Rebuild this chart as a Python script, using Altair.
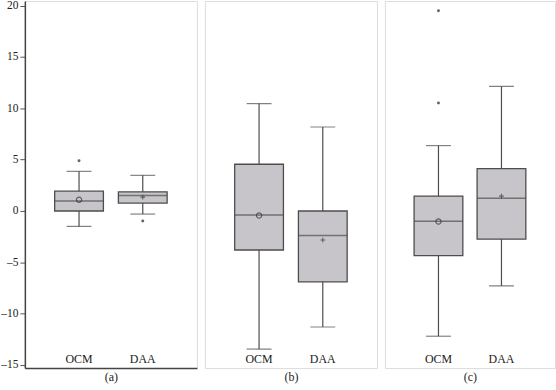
import altair as alt
import pandas as pd

panels = ["(a)", "(a)", "(b)", "(b)", "(c)", "(c)"]
groups = ["OCM", "DAA", "OCM", "DAA", "OCM", "DAA"]
lower_whisker = [-1.5, -0.3, -13.45, -11.3, -12.2, -7.3]
q1 = [0.0, 0.77, -3.8, -6.9, -4.35, -2.75]
median = [0.97, 1.5, -0.4, -2.4, -1.0, 1.25]
q3 = [1.93, 1.87, 4.55, 0.0, 1.45, 4.12]
upper_whisker = [3.86, 3.47, 10.46, 8.18, 6.37, 12.13]
mean = [1.1, 1.35, -0.44, -2.83, -1.02, 1.45]

outlier_panel = ["(a)", "(a)", "(c)", "(c)"]
outlier_group = ["OCM", "DAA", "OCM", "OCM"]
outlier_value = [4.89, -0.97, 19.5, 10.52]

panel_names = ["(a)", "(b)", "(c)"]
group_order = ["OCM", "DAA"]
y_ticks = [-15, -10, -5, 0, 5, 10, 15, 20]
panel_widths = [173, 173, 171]

stats = pd.DataFrame({
    "panel": panels, "group": groups, "lo": lower_whisker, "q1": q1,
    "median": median, "q3": q3, "hi": upper_whisker, "mean": mean,
})
outs = pd.DataFrame({"panel": outlier_panel, "group": outlier_group, "value": outlier_value})

H = 369
SERIF = "Liberation Serif"
EDGE = "#4d4d4d"
yscale = alt.Scale(domain=[-15.3, 20.45], nice=False, zero=False)


def make_panel(name, width, first):
    s = stats[stats.panel == name]
    o = outs[outs.panel == name]
    xenc = alt.X(
        "group:N",
        scale=alt.Scale(domain=group_order, paddingOuter=0.35, paddingInner=0),
        axis=alt.Axis(title=name, labels=False, ticks=False, domain=first,
                      domainColor="#444", domainWidth=1.5,
                      titleFont=SERIF, titleFontSize=12, titleFontWeight="normal",
                      titleColor="#222", titlePadding=4),
    )
    if first:
        yaxis = alt.Axis(title=None, values=y_ticks, labelFont=SERIF, labelFontSize=11.5,
                         labelColor="#222", tickSize=5, tickColor="#555", domain=True,
                         domainColor="#444", domainWidth=1.5,
                         labelExpr="replace(datum.label, '\u2212', '\u2013')",
                         grid=False, labelPadding=2)
    else:
        yaxis = None
    base = alt.Chart(s)
    whisk = base.mark_rule(color=EDGE, strokeWidth=1.2).encode(
        x=xenc, y=alt.Y("lo:Q", scale=yscale, axis=yaxis), y2="hi:Q")
    box = base.mark_bar(size=49, fill="#c7c5c9", stroke=EDGE, strokeWidth=1.3).encode(
        x=xenc, y=alt.Y("q1:Q", scale=yscale, axis=yaxis), y2="q3:Q")
    med = base.mark_tick(size=49, thickness=1.5, color=EDGE).encode(
        x=xenc, y=alt.Y("median:Q", scale=yscale))
    caplo = base.mark_tick(size=25, thickness=1.2, color=EDGE).encode(
        x=xenc, y=alt.Y("lo:Q", scale=yscale))
    caphi = base.mark_tick(size=25, thickness=1.2, color=EDGE).encode(
        x=xenc, y=alt.Y("hi:Q", scale=yscale))
    mean_ocm = base.transform_filter(alt.datum.group == "OCM").mark_point(
        shape="circle", filled=False, size=28, color="#333", strokeWidth=1.2).encode(
        x=xenc, y=alt.Y("mean:Q", scale=yscale))
    mean_daa = base.transform_filter(alt.datum.group == "DAA").mark_point(
        shape="M-1,0L1,0M0,-1L0,1", filled=False, size=22, color="#333", strokeWidth=1.1).encode(
        x=xenc, y=alt.Y("mean:Q", scale=yscale))
    labels = base.mark_text(font=SERIF, fontSize=12, color="#222", baseline="bottom").encode(
        x=xenc, y=alt.value(H - 2), text="group:N")
    layers = [whisk, box, med, caplo, caphi, mean_ocm, mean_daa, labels]
    if len(o):
        pts = alt.Chart(o).mark_point(shape="circle", filled=True, size=9, color="#666", opacity=1).encode(
            x=xenc, y=alt.Y("value:Q", scale=yscale))
        layers.append(pts)
    return alt.layer(*layers).properties(width=width, height=H)


charts = [make_panel(n, w, i == 0) for i, (n, w) in enumerate(zip(panel_names, panel_widths))]
chart = alt.hconcat(*charts, spacing=6).configure_view(
    stroke="#8a8a8a", strokeWidth=1.6
).configure(padding={"left": 0, "top": -2, "right": 0, "bottom": 0}, background="white")

chart.save("out.html", embed_options={"renderer": "svg", "actions": False})
